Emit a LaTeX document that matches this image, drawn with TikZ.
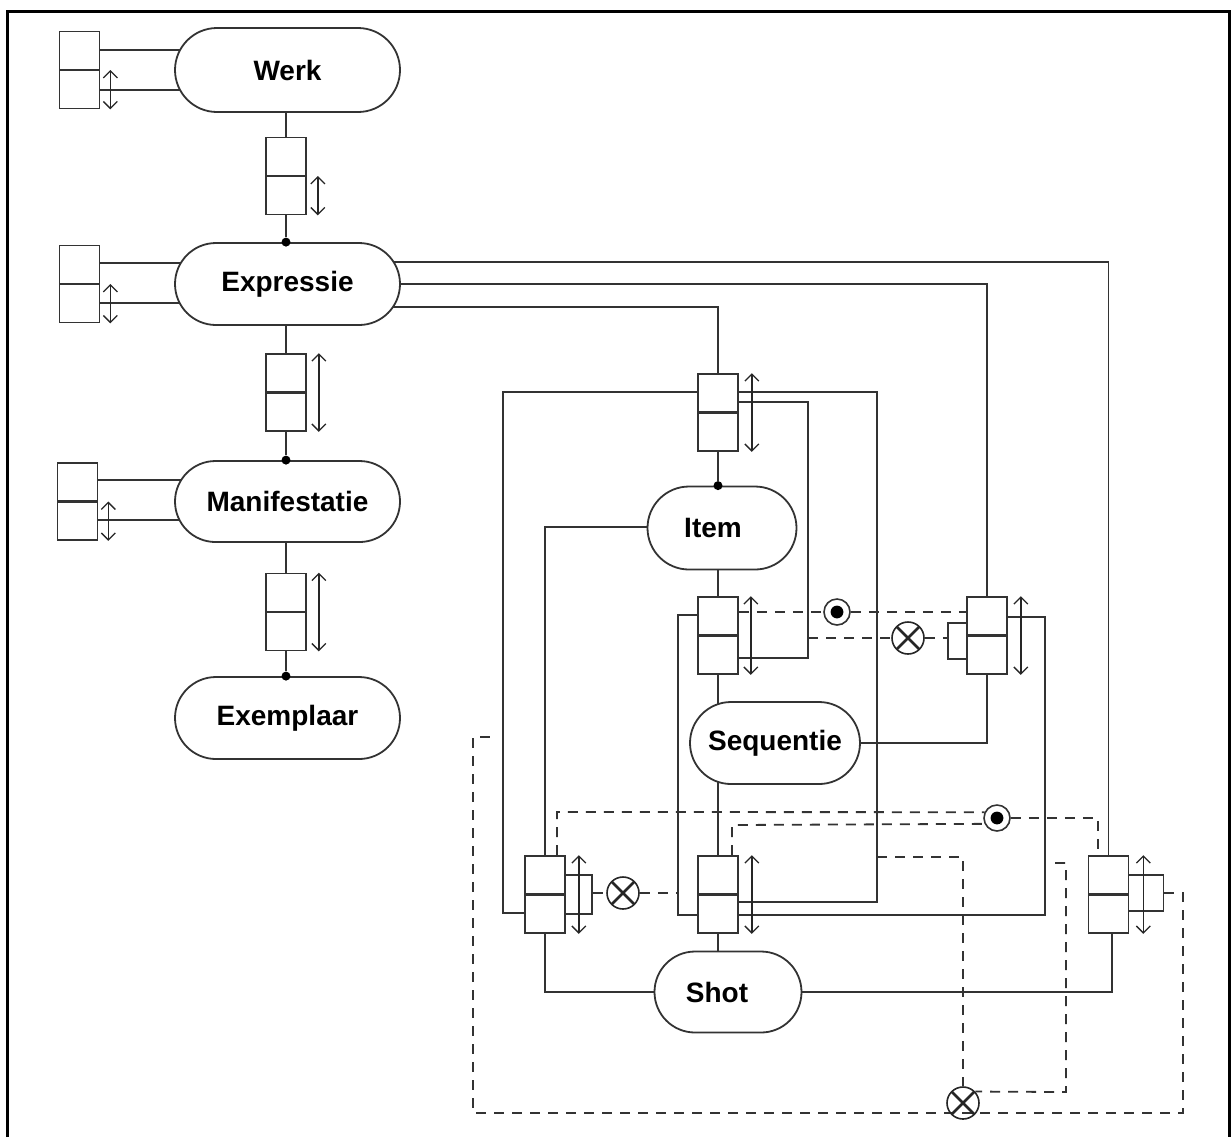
\documentclass[tikz,border=0pt]{standalone}
\usepackage{fontspec}
\setmainfont{Liberation Sans}
\usetikzlibrary{shapes.misc,arrows.meta,calc}
\pgfdeclarelayer{bg}
\pgfsetlayers{bg,main}
\begin{document}
\begin{tikzpicture}[x=0.5pt,y=-0.5pt,
  stad/.style={rounded rectangle, draw=black!80, line width=0.9pt, fill=white,
    font=\bfseries\fontsize{14}{16}\selectfont, inner sep=0pt},
  cell/.style={draw=black!80, line width=0.85pt, fill=white, minimum width=20pt,
    minimum height=38.5pt, inner sep=0pt,
    path picture={\draw[line width=1.1pt,black!80] (path picture bounding box.west) -- (path picture bounding box.east);}},
  tab/.style={draw=black!80, line width=0.85pt, fill=white, inner sep=0pt},
  conn/.style={draw=black!80, line width=0.8pt},
  dsh/.style={draw=black!80, line width=0.9pt, dash pattern=on 5pt off 4pt},
  dbl/.style={draw=black!85, line width=0.65pt,
    {Straight Barb[length=3.5pt,width=7pt]}-{Straight Barb[length=3.5pt,width=7pt]}},
  jdot/.style={circle, fill=black, inner sep=0pt, minimum size=4.5pt},
  odot/.style={circle, draw=black!80, fill=white, line width=0.8pt, minimum size=13pt, inner sep=0pt,
    path picture={\fill[black] (path picture bounding box.center) circle (3.2pt);}},
  xc/.style={circle, draw=black!85, line width=0.8pt, minimum size=16pt, inner sep=0pt,
    path picture={\draw[line width=1.3pt,black!85] (path picture bounding box.north west) -- (path picture bounding box.south east)
      (path picture bounding box.north east) -- (path picture bounding box.south west);}}
]
\useasboundingbox (0,0) rectangle (1231,1137);
\draw[line width=1.5pt] (7,1137) -- (7,11) -- (1229,11) -- (1229,1137);

% stadium nodes
\node[stad, minimum width=112.5pt, minimum height=42pt] (werk) at (287.5,70) {Werk};
\node[stad, minimum width=112.5pt, minimum height=41pt] (expr) at (287.5,284) {Expressie};
\node[stad, minimum width=112.5pt, minimum height=40.5pt] (mani) at (287.5,501.5) {Manifestatie};
\node[stad, minimum width=112.5pt, minimum height=41pt] (exem) at (287.5,718) {Exemplaar};
\node[stad, minimum width=74.5pt, minimum height=41.5pt] (item) at (722,528) {\hspace*{-9pt}Item};
\node[stad, minimum width=85pt, minimum height=41pt] (seq) at (775,743) {Sequentie};
\node[stad, minimum width=73.5pt, minimum height=40.5pt] (shot) at (728,992) {\hspace*{-11pt}Shot};

% side tabs
\node[tab, minimum width=9.5pt, minimum height=18pt] (SC) at (957.5,641) {};
\node[tab, minimum width=14pt, minimum height=19.5pt] (SD) at (578,894.5) {};
\node[tab, minimum width=17.5pt, minimum height=18pt] (SF) at (1146,893) {};

% two-cell boxes
\node[cell] (wL) at (79.5,70) {};
\node[cell] (wE) at (286,176) {};
\node[cell] (eL) at (79.5,284) {};
\node[cell] (eM) at (286,392.5) {};
\node[cell] (mL) at (77.5,501.5) {};
\node[cell] (mX) at (286,612) {};
\node[cell] (A) at (718,412.5) {};
\node[cell] (B) at (718,635.5) {};
\node[cell] (C) at (987,635.5) {};
\node[cell] (D) at (545,894.5) {};
\node[cell] (E) at (718,894.5) {};
\node[cell] (F) at (1108.5,894.5) {};

% double arrows
\draw[dbl] ([xshift=5pt]wL.east) -- ([xshift=5pt]wL.south east);
\draw[dbl] ([xshift=5.5pt]wE.east) -- ([xshift=5.5pt]wE.south east);
\draw[dbl] ([xshift=5pt]eL.east) -- ([xshift=5pt]eL.south east);
\draw[dbl] ([xshift=6pt]eM.north east) -- ([xshift=6pt]eM.south east);
\draw[dbl] ([xshift=5pt]mL.east) -- ([xshift=5pt]mL.south east);
\draw[dbl] ([xshift=6pt]mX.north east) -- ([xshift=6pt]mX.south east);
\draw[dbl] ([xshift=6.5pt]A.north east) -- ([xshift=6.5pt]A.south east);
\draw[dbl] ([xshift=6pt]B.north east) -- ([xshift=6pt]B.south east);
\draw[dbl] ([xshift=6.5pt]C.north east) -- ([xshift=6.5pt]C.south east);
\draw[dbl] ([xshift=6.5pt]D.north east) -- ([xshift=6.5pt]D.south east);
\draw[dbl] ([xshift=6.5pt]E.north east) -- ([xshift=6.5pt]E.south east);
\draw[dbl] ([xshift=7pt]F.north east) -- ([xshift=7pt]F.south east);

% circle symbols
\node[odot] (P1) at (837,612) {};
\node[odot] (P2) at (997,818) {};
\node[xc] (X1) at (908,638) {};
\node[xc] (X2) at (623,893) {};
\node[xc] (X3) at (963,1103) {};

% junction dots
\node[jdot] (j1) at (wE.south |- expr.north) {};
\node[jdot] (j2) at (eM.south |- mani.north) {};
\node[jdot] (j3) at (mX.south |- exem.north) {};
\node[jdot] (j4) at (A.south |- item.north) {};

% free ends of dashed lines
\coordinate (q1) at (808,638);
\coordinate (q2) at (678,893);
\coordinate (q3) at (877,857);
\coordinate (q4) at (1055,863);
\coordinate (q5) at (493,737);

\begin{pgfonlayer}{bg}
% left column
\draw[conn] (wL.east |- 0,50) -- (werk.center |- 0,50);
\draw[conn] (wL.east |- 0,90) -- (werk.center |- 0,90);
\draw[conn] (wE.north |- werk.center) -- (wE.north);
\draw[conn] (wE.south) -- (j1);
\draw[conn] (eL.east |- 0,263) -- (expr.center |- 0,263);
\draw[conn] (eL.east |- 0,303) -- (expr.center |- 0,303);
\draw[conn] (eM.north |- expr.center) -- (eM.north);
\draw[conn] (eM.south) -- (j2);
\draw[conn] (mL.east |- 0,480) -- (mani.center |- 0,480);
\draw[conn] (mL.east |- 0,520) -- (mani.center |- 0,520);
\draw[conn] (mX.north |- mani.center) -- (mX.north);
\draw[conn] (mX.south) -- (j3);
% from Expressie to the right
\draw[conn] (expr.center |- 0,262) -| (F.north);
\draw[conn] (expr.center |- 0,284) -| (C.north);
\draw[conn] (expr.center |- 0,307) -| (A.north);
% box A
\draw[conn] (A.south) -- (j4);
\draw[conn] (A.west |- 0,392) -| (503,913) -- (D.west |- 0,913);
\draw[conn] (A.east |- 0,392) -| (877,902) -- (E.east |- 0,902);
\draw[conn] (A.east |- 0,402) -| (808,658) -- (B.east |- 0,658);
% item
\draw[conn] (item.center |- 0,527) -| (D.north);
\draw[conn] (B.north |- item.center) -- (B.north);
% box B
\draw[conn] (B.south) -- (B.south |- seq.center);
\draw[conn] (B.west |- 0,615) -| (678,915) -- (E.west |- 0,915);
\draw[dsh] (B.east |- 0,612) -- (P1) -- (C.west |- 0,612);
\draw[dsh] (q1) -- (X1) -- (SC.west |- 0,638);
% box C
\draw[conn] (C.south) |- (seq.center);
\draw[conn] (C.east |- 0,617) -| (1045,915) -- (E.east |- 0,915);
% box E / sequentie / shot
\draw[conn] (E.north |- seq.center) -- (E.north);
\draw[conn] (E.south) -- (E.south |- shot.center);
\draw[conn] (D.south) |- (shot.center);
\draw[conn] (F.south -| 1112,0) |- (shot.center);
% dashed bottom network
\draw[dsh] (D.north -| 557,0) -- (557,812) -- (P2.155);
\draw[dsh] (E.north -| 732,0) -- (732,825) -- (P2.205);
\draw[dsh] (P2) -| (F.north -| 1098,0);
\draw[dsh] (SD.east |- 0,893) -- (X2) -- (q2);
\draw[dsh] (SF.east |- 0,893) -| (1183,1113) -| (473,737) -- (q5);
\draw[dsh] (q3) -| (X3);
\draw[dsh] (q4) -| (1066,1092) -- (X3.43);
\end{pgfonlayer}
\end{tikzpicture}
\end{document}
